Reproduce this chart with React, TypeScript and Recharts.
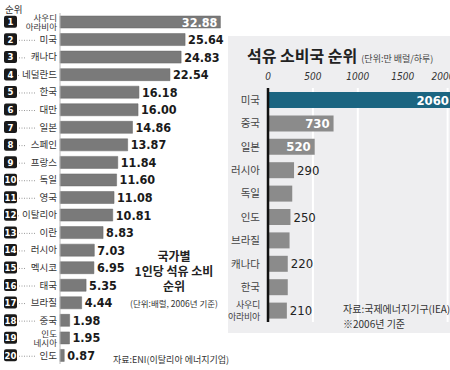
import { BarChart, Bar, XAxis, YAxis, CartesianGrid, LabelList, Cell } from "recharts";

// 국가별 1인당 석유 소비 (배럴, 2006)
const perCapitaCountries = [
  "사우디\n아라비아", "미국", "캐나다", "네덜란드", "한국", "대만", "일본", "스페인", "프랑스", "독일",
  "영국", "이탈리아", "이란", "러시아", "멕시코", "태국", "브라질", "중국", "인도\n네시아", "인도",
];
const perCapitaValues = [
  32.88, 25.64, 24.83, 22.54, 16.18, 16.0, 14.86, 13.87, 11.84, 11.6,
  11.08, 10.81, 8.83, 7.03, 6.95, 5.35, 4.44, 1.98, 1.95, 0.87,
];

// 석유 소비국 순위 (만 배럴/하루)
const consumerCountries = ["미국", "중국", "일본", "러시아", "독일", "인도", "브라질", "캐나다", "한국", "사우디\n아라비아"];
const consumerValues = [2060, 730, 520, 290, 270, 250, 240, 220, 220, 210];
const consumerLabelShown = [true, true, true, true, false, true, false, true, false, true];
const consumerTicks = [0, 500, 1000, 1500, 2000];

const leftData = perCapitaCountries.map((name, i) => ({ name, value: perCapitaValues[i] }));
const rightData = consumerCountries.map((name, i) => ({ name, value: consumerValues[i] }));

const KR = "'Noto Sans CJK KR', 'Noto Sans', sans-serif";
const NUM = "'Liberation Sans Narrow', 'DejaVu Sans Condensed', 'Arial Narrow', sans-serif";

const LeftTick = (props: any) => {
  const { y, payload } = props;
  const idx = perCapitaCountries.indexOf(payload.value);
  const lines = String(payload.value).split("\n");
  const nameW = lines[0].length * 9.5;
  return (
    <g>
      <rect x={4} y={y - 6} width={13} height={12} rx={2} fill="#1a1a1a" />
      <text x={10.5} y={y + 3.5} textAnchor="middle" fill="#fff" fontSize={9.5} fontWeight="bold" fontFamily={NUM}>
        {idx + 1}
      </text>
      {lines.length === 1 && (
        <line x1={19} x2={57 - nameW - 2} y1={y + 1} y2={y + 1} stroke="#999" strokeDasharray="1 1.5" />
      )}
      {lines.length === 1 ? (
        <text x={57} y={y + 3.5} textAnchor="end" fontSize={9.5} fill="#333" fontFamily={KR}>{lines[0]}</text>
      ) : (
        <text x={57} textAnchor="end" fontSize={8.5} fill="#333" fontFamily={KR}>
          <tspan x={57} y={y - 0.5}>{lines[0]}</tspan>
          <tspan x={57} y={y + 8.5}>{lines[1]}</tspan>
        </text>
      )}
    </g>
  );
};

const RightTick = (props: any) => {
  const { x, y, payload } = props;
  const lines = String(payload.value).split("\n");
  if (lines.length === 1)
    return <text x={x} y={y + 4} textAnchor="end" fontSize={10.5} fill="#444" fontFamily={KR}>{lines[0]}</text>;
  return (
    <text x={x} textAnchor="end" fontSize={9} letterSpacing={-0.3} fill="#444" fontFamily={KR}>
      <tspan x={x} y={y - 2}>{lines[0]}</tspan>
      <tspan x={x} y={y + 10}>{lines[1]}</tspan>
    </text>
  );
};

const LeftLabel = (props: any) => {
  const { x, y, width, height, value, index } = props;
  const cy = y + height / 2 + 4.5;
  const txt = Number(value).toFixed(2);
  if (index === 0)
    return <text x={x + width - 3} y={cy} textAnchor="end" fill="#fff" fontSize={12.5} fontWeight="bold" fontFamily={NUM}>{txt}</text>;
  return <text x={x + width + 3} y={cy} textAnchor="start" fill="#1a1a1a" fontSize={12.5} fontWeight="bold" fontFamily={NUM}>{txt}</text>;
};

const RightLabel = (props: any) => {
  const { x, y, width, height, value, index } = props;
  if (!consumerLabelShown[index]) return null;
  const cy = y + height / 2 + 4.5;
  if (index < 3) {
    const end = Math.min(x + width, 225) - 4;
    return <text x={end} y={cy} textAnchor="end" fill="#fff" fontSize={13} fontWeight="bold" fontFamily={NUM}>{value}</text>;
  }
  return <text x={x + width + 3} y={cy} textAnchor="start" fill="#222" fontSize={13} fontFamily={NUM}>{value}</text>;
};

export default function App() {
  return (
    <div style={{ position: "absolute", left: 0, top: 0, width: 450, height: 370, overflow: "hidden", background: "#fff", fontFamily: KR }}>
      <div style={{ position: "absolute", left: 5, top: 2, fontSize: 9.5, color: "#333" }}>순위</div>

      <div style={{ position: "absolute", left: 0, top: 0 }}>
        <BarChart width={225} height={370} data={leftData} layout="vertical" margin={{ top: 13, right: 4, bottom: 6, left: 0 }}>
          <XAxis type="number" hide domain={[0, 33]} />
          <YAxis type="category" dataKey="name" width={60} tickLine={false} axisLine={{ stroke: "#bbb" }} tick={<LeftTick />} interval={0} />
          <Bar dataKey="value" barSize={12} fill="#7a7a7a" stroke="#666" strokeWidth={0.5} isAnimationActive={false}>
            <LabelList dataKey="value" content={<LeftLabel />} />
          </Bar>
        </BarChart>
      </div>

      <div style={{ position: "absolute", left: 112, top: 248, width: 124, textAlign: "center", fontSize: 12, fontWeight: "bold", lineHeight: "15px", color: "#222" }}>
        국가별<br />1인당 석유 소비<br />순위
      </div>
      <div style={{ position: "absolute", left: 112, top: 297, width: 124, textAlign: "center", fontSize: 8.5, color: "#333" }}>
        (단위:배럴, 2006년 기준)
      </div>
      <div style={{ position: "absolute", left: 113, top: 353, fontSize: 9, color: "#333", whiteSpace: "nowrap" }}>
        자료:ENI(이탈리아 에너지기업)
      </div>

      <div style={{ position: "absolute", left: 228, top: 36, width: 222, height: 297, background: "#eeeef0" }} />
      <div style={{ position: "absolute", left: 247, top: 43, whiteSpace: "nowrap", color: "#222" }}>
        <span style={{ fontSize: 16, fontWeight: "bold" }}>석유 소비국 순위</span>
        <span style={{ fontSize: 9, marginLeft: 4, color: "#444" }}>(단위:만 배럴/하루)</span>
      </div>

      <div style={{ position: "absolute", left: 228, top: 36 }}>
        <BarChart width={225} height={299} data={rightData} layout="vertical" margin={{ top: 32, right: 0, bottom: 13, left: 0 }}>
          <CartesianGrid horizontal={false} stroke="#fff" strokeWidth={2} />
          <XAxis
            type="number"
            orientation="top"
            domain={[0, 2060]}
            ticks={consumerTicks}
            height={20}
            axisLine={false}
            tickLine={false}
            tick={{ fontSize: 10, fontStyle: "italic", fill: "#333", fontFamily: NUM }}
          />
          <YAxis type="category" dataKey="name" width={40} tickLine={false} axisLine={{ stroke: "#111", strokeWidth: 2.5 }} tick={<RightTick />} interval={0} tickMargin={2} />
          <Bar dataKey="value" barSize={16} isAnimationActive={false}>
            {rightData.map((_, i) => (
              <Cell key={i} fill={i === 0 ? "#1b6581" : "#8b8b8b"} />
            ))}
            <LabelList dataKey="value" content={<RightLabel />} />
          </Bar>
        </BarChart>
      </div>

      <div style={{ position: "absolute", left: 343, top: 301, fontSize: 10, color: "#333", lineHeight: "15px", whiteSpace: "nowrap" }}>
        자료:국제에너지기구(IEA)<br />※2006년 기준
      </div>
    </div>
  );
}
